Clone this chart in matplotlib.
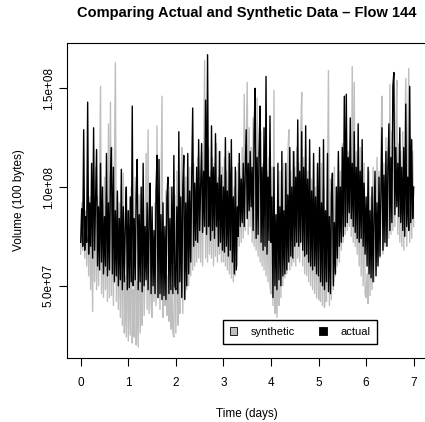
import numpy as np
import matplotlib
matplotlib.use("Agg")
import matplotlib.pyplot as plt
from matplotlib.patches import Patch

plt.rcParams['font.family'] = ['Liberation Sans', 'DejaVu Sans']

# half-hourly samples over one week, volume in millions of "100 bytes"
actual = [
    72, 89, 70, 129, 68, 85, 72, 143, 66, 92, 70, 112, 64, 130, 68, 95, 119, 60, 90, 58, 112, 62, 100, 56,
    85, 60, 117, 55, 92, 58, 105, 120, 56, 110, 52, 88, 55, 98, 50, 84, 53, 109, 48, 90, 52, 80, 100, 48,
    88, 49, 95, 52, 141, 50, 84, 53, 96, 114, 48, 86, 52, 100, 47, 112, 50, 80, 53, 92, 48, 85, 102, 46,
    90, 50, 78, 46, 98, 116, 44, 114, 46, 86, 43, 92, 45, 80, 43, 95, 105, 46, 84, 48, 100, 46, 116, 50,
    48, 90, 46, 128, 52, 95, 44, 100, 116, 43, 92, 50, 117, 56, 98, 62, 105, 140, 70, 102, 73, 110, 72, 124,
    78, 100, 122, 77, 108, 80, 144, 76, 167, 80, 105, 73, 131, 78, 110, 74, 127, 80, 102, 70, 118, 72, 106, 68,
    100, 67, 125, 70, 98, 65, 117, 68, 124, 62, 95, 56, 110, 58, 90, 75, 117, 80, 104, 82, 112, 80, 108, 129,
    84, 112, 88, 118, 90, 110, 78, 128, 150, 74, 115, 76, 120, 141, 72, 110, 68, 130, 70, 156, 66, 105, 73, 136,
    72, 95, 44, 110, 50, 86, 48, 112, 53, 90, 50, 118, 55, 88, 56, 112, 58, 96, 62, 120, 65, 100, 64, 118,
    70, 105, 72, 134, 70, 108, 72, 128, 68, 110, 65, 131, 66, 104, 62, 124, 60, 98, 58, 117, 60, 95, 56, 112,
    55, 120, 52, 92, 50, 124, 48, 88, 52, 117, 47, 85, 46, 96, 107, 50, 82, 56, 100, 64, 118, 70, 100, 72,
    120, 75, 146, 80, 147, 82, 115, 87, 135, 84, 112, 80, 128, 77, 110, 74, 132, 72, 108, 74, 124, 70, 102, 66,
    95, 60, 110, 56, 88, 54, 100, 52, 84, 108, 55, 92, 60, 105, 65, 98, 130, 68, 106, 72, 118, 70, 110, 132,
    78, 115, 82, 151, 158, 86, 120, 90, 112, 85, 130, 82, 110, 78, 120, 75, 142, 80, 105, 78, 151, 82, 124, 84,
    100,
]
synthetic = [
    66, 92, 68, 100, 64, 88, 60, 105, 55, 95, 48, 90, 37, 98, 52, 110, 48, 95, 50, 102, 151, 46, 92, 44,
    105, 48, 96, 42, 132, 44, 143, 45, 100, 40, 110, 163, 42, 96, 38, 92, 34, 100, 30, 107, 26, 55, 24, 88,
    22, 60, 25, 100, 21, 48, 24, 105, 20, 52, 19, 96, 26, 58, 30, 100, 35, 62, 117, 38, 129, 36, 95, 40,
    34, 70, 42, 92, 40, 131, 44, 65, 38, 95, 146, 34, 60, 40, 98, 35, 55, 32, 100, 28, 50, 26, 24, 96,
    26, 108, 30, 58, 36, 95, 120, 36, 100, 44, 105, 48, 98, 50, 110, 55, 104, 58, 112, 60, 100, 62, 115, 64,
    108, 62, 118, 60, 105, 164, 64, 110, 62, 120, 66, 108, 64, 115, 60, 112, 65, 122, 62, 105, 66, 118, 62, 110,
    62, 115, 60, 108, 58, 118, 56, 102, 54, 110, 52, 100, 55, 108, 60, 112, 70, 105, 72, 120, 74, 147, 78, 118,
    153, 76, 130, 80, 120, 72, 135, 70, 125, 68, 145, 65, 118, 62, 128, 60, 112, 58, 120, 55, 108, 52, 115, 50,
    46, 110, 40, 149, 36, 55, 34, 62, 40, 108, 44, 100, 50, 112, 54, 104, 56, 115, 129, 58, 108, 60, 118, 62,
    110, 60, 120, 64, 112, 62, 125, 148, 60, 115, 56, 120, 55, 108, 52, 115, 50, 104, 48, 112, 46, 100, 44, 110,
    43, 55, 42, 112, 40, 100, 39, 58, 42, 98, 159, 40, 104, 43, 95, 48, 110, 55, 100, 60, 115, 62, 108, 68,
    122, 72, 112, 76, 128, 78, 118, 80, 125, 75, 161, 72, 153, 70, 118, 66, 112, 60, 120, 55, 108, 50, 112, 46,
    44, 56, 41, 108, 45, 95, 48, 110, 52, 102, 58, 115, 62, 108, 64, 120, 146, 66, 112, 70, 125, 72, 118, 74,
    152, 76, 128, 78, 120, 80, 130, 154, 76, 122, 72, 118, 70, 128, 68, 115, 155, 70, 120, 160, 72, 125, 74, 118,
    80,
]

days = np.arange(len(actual)) / 48.0
actual = np.array(actual) * 1e6
synthetic = np.array(synthetic) * 1e6

fig = plt.figure(figsize=(4.25, 4.22), dpi=100)
ax = fig.add_axes([67.4 / 425, 64 / 422, (427 - 67.4) / 425, 315 / 422])

ax.plot(days, synthetic, color='#bebebe', lw=1.0)
ax.plot(days, actual, color='black', lw=1.0)

ax.set_xlim(-0.28, 7.28)
ax.set_ylim(13.4e6, 172.95e6)
ax.set_xticks(range(8))
ax.set_yticks([5e7, 1e8, 1.5e8])
ax.set_yticklabels(['5.0e+07', '1.0e+08', '1.5e+08'], rotation=90, va='center')
ax.tick_params(axis='x', length=6, width=0.8, labelsize=8.5, pad=8)
ax.tick_params(axis='y', length=6, width=0.8, labelsize=8.5, pad=3)
for s in ax.spines.values():
    s.set_linewidth(0.8)

ax.set_xlabel('Time (days)', fontsize=8.5, labelpad=13)
ax.set_ylabel('Volume (100 bytes)', fontsize=8.5, labelpad=13)
fig.text(247 / 425, 1 - 13 / 422, 'Comparing Actual and Synthetic Data \u2013 Flow 144',
         ha='center', va='center', fontsize=10.5, fontweight='bold')

handles = [Patch(facecolor='#bebebe', edgecolor='black', lw=0.6, label='synthetic'),
           Patch(facecolor='black', edgecolor='black', lw=0.6, label='actual')]
ax.legend(handles=handles, ncol=2, loc='center', mode='expand',
          bbox_to_anchor=(223 / 425, 76 / 422, 154 / 425, 28 / 422),
          bbox_transform=fig.transFigure, fancybox=False, edgecolor='black', framealpha=1,
          fontsize=8, handlelength=0.7, handleheight=0.7, handletextpad=1.2,
          borderpad=0.6, borderaxespad=0)

fig.savefig('out.png', dpi=100)
